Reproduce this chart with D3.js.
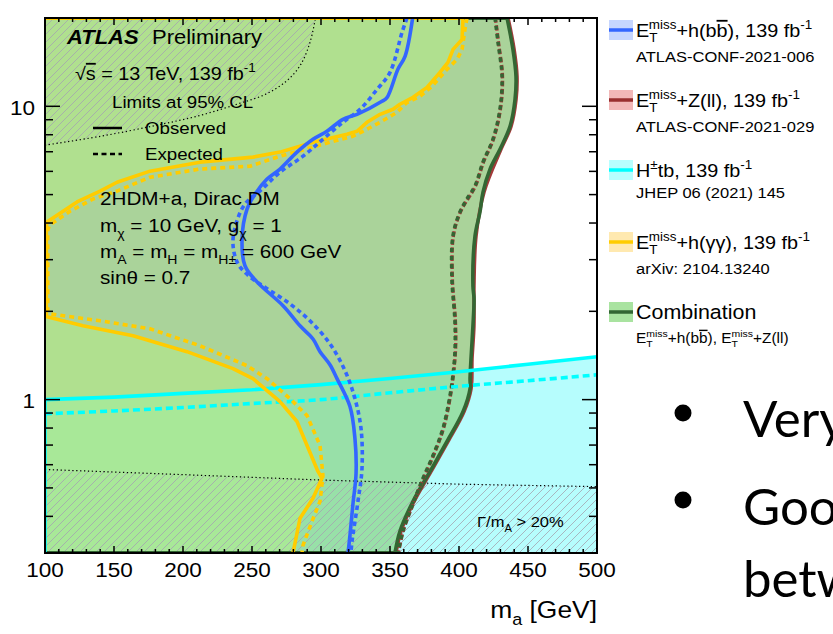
<!DOCTYPE html>
<html>
<head>
<meta charset="utf-8">
<script src="https://cdn.jsdelivr.net/npm/d3@7"></script>
<style>
  body { margin: 0; background: #fff; }
  text { font-family: "Liberation Sans", Arial, Helvetica, sans-serif; fill: #000; }
</style>
</head>
<body>
<script>
// ---- exclusion contours in the (m_a [GeV], tan beta) plane ----
const blueObs = [[366.4,20],[360.9,14.8],[355.8,13.4],[347.8,10.7],[344.2,10.4],[326.1,9.39],[315.9,9.03],[304.3,8.22],[294.2,7.72],[282.6,6.98],[270.3,6.11],[260.9,5.65],[252.2,5.02],[246.4,4.46],[242.8,3.53],[244.9,2.86],[253.6,2.52],[272.5,2.09],[284.8,1.785],[294.2,1.61],[299.3,1.457],[306.5,1.315],[311.6,1.179],[321.0,0.947],[324.6,0.737],[325.4,0.56],[323.2,0.443],[321.0,0.345],[319.6,0.3]];
const blueExp = [[362.3,20],[358.7,17.85],[350,13.05],[340.6,11.42],[328.3,9.77],[315.9,8.82],[301.4,7.72],[287,6.76],[270.3,5.96],[257.2,5.22],[244.9,4.64],[238.4,3.97],[236.2,3.39],[239.9,2.9],[248.6,2.62],[260.9,2.39],[277.5,2.12],[292,1.857],[306.5,1.55],[317.4,1.255],[324.6,1.008],[329,0.797],[329.7,0.582],[326.8,0.45],[322.5,0.329],[321.7,0.3]];
const yellowObs = [[402.9,20],[402.2,16.9],[395.7,15.63],[392,14.11],[386.2,13.05],[376.8,11.6],[366.7,10.73],[357.2,10.16],[352.2,9.77],[342.8,9.39],[333.3,8.82],[326.1,8.22],[318.8,8.03],[294.2,7.54],[270.3,6.98],[250.7,6.71],[212.3,6.45],[176.1,6.01],[152.2,5.51],[139.9,5.14],[123.2,4.72],[101.4,4.03],[101,3.9],[101,1.95],[101.4,1.915],[127.5,1.785],[163.8,1.65],[202.9,1.457],[236.2,1.275],[250.7,1.179],[270.3,0.984],[282.6,0.842],[289.9,0.698],[297.8,0.569],[300.7,0.539],[294.2,0.461],[284.8,0.394],[279.7,0.3]];
const yellowExp = [[405.8,20],[404.3,18.28],[402.2,15.63],[398.6,14.45],[391.3,13.36],[380.4,11.7],[371.7,10.81],[362.3,10.3],[355.1,9.54],[342.8,8.82],[330.4,8.22],[323.2,7.91],[306.5,7.54],[294.2,7.26],[270.3,6.76],[248.6,6.25],[212.3,6.11],[176.1,5.73],[152.2,5.14],[134.8,4.83],[118.1,4.39],[103.6,3.94],[102,3.8],[102,2.0],[103.6,1.96],[139.9,1.857],[176.1,1.744],[212.3,1.526],[246.4,1.305],[260.9,1.179],[277.5,1.008],[289.9,0.882],[299.3,0.698],[301.4,0.551],[299.3,0.45],[293.5,0.385],[287,0.319],[286.2,0.3]];
const greenObs = [[434.8,20],[439.1,15.63],[441.3,12.65],[440.6,10.56],[437,8.55],[429.7,7.14],[422.5,6.11],[417.4,5.1],[415.2,4.36],[411.6,3.61],[410.1,2.44],[410.9,2.21],[410.1,1.785],[408.7,1.379],[408,1.179],[408,1.09],[402.9,0.91],[391.3,0.72],[379,0.569],[366.7,0.45],[357.2,0.356],[353.6,0.3]];
const greenExp = [[426.1,20],[428.3,16.5],[431.2,12.65],[429.7,9.77],[424.6,7.72],[417.4,6.45],[411.6,5.35],[405.8,4.83],[400.7,4.36],[395.6,3.61],[394.9,2.58],[397.1,1.843],[397.1,1.457],[395.6,1.207],[393.5,1.032],[388.4,0.797],[381.2,0.645],[373.9,0.539],[366.7,0.443],[359.4,0.358],[355.8,0.3]];
const redObs = [[435.6,20],[440,15.63],[442.1,12.65],[441.4,10.56],[437.8,8.55],[430.5,7.14],[418.2,5.1],[412.4,3.61],[410.9,2.44],[410.9,1.785],[409.5,1.379],[408.8,1.09],[403.7,0.91],[392.1,0.72],[379.8,0.569],[367.5,0.45],[358,0.356],[354.4,0.3]];
const redExp = [[426.4,20],[428.6,16.5],[431.5,12.65],[430,9.77],[424.9,7.72],[417.7,6.45],[411.9,5.35],[401,4.36],[395.9,3.61],[395.2,2.58],[397.4,1.843],[397.4,1.457],[393.8,1.032],[388.7,0.797],[381.5,0.645],[374.2,0.539],[367,0.443],[359.7,0.358],[356.1,0.3]];
const cyanObs = [[100,1.0],[150,1.02],[200,1.05],[250,1.08],[300,1.125],[350,1.18],[400,1.245],[450,1.32],[500,1.4]];
const cyanExp = [[100,0.895],[150,0.915],[200,0.94],[250,0.97],[300,1.0],[350,1.055],[400,1.11],[450,1.16],[500,1.215]];
// Gamma_A / m_A = 20% boundaries
const widthUpper = [[100,7.37],[140,7.9],[180,8.6],[212,9.3],[240,10.2],[260,11.0],[275,12.2],[285,13.8],[292,16.5],[296,20]];
const widthLower = [[100,0.578],[200,0.555],[300,0.532],[400,0.515],[500,0.505]];

// ---- axes ----
const xDomain = [100, 500];
const yDomain = [0.3, 20];
const xTickLabels = [100, 150, 200, 250, 300, 350, 400, 450, 500];
const yTickLabels = [1, 10];
const yMinorTicks = [0.4,0.5,0.6,0.7,0.8,0.9,2,3,4,5,6,7,8,9];

const W = 833, H = 634;
const L = 45, R = 597, T = 18, B = 553;
const x = d3.scaleLinear().domain(xDomain).range([L, R]);
const y = d3.scaleLog().domain(yDomain).range([B, T]);

const svg = d3.select("body").append("svg").attr("width", W).attr("height", H);
const defs = svg.append("defs");
defs.append("clipPath").attr("id", "plotClip").append("rect")
  .attr("x", L).attr("y", T).attr("width", R - L).attr("height", B - T);

const smooth = d3.curveCatmullRom.alpha(0.5);
const lineOf = (curve) => d3.line().x(d => x(d[0])).y(d => y(d[1])).curve(curve);
function regionPath(contour, extra, curve) {
  return lineOf(curve)(contour) + extra.map(p => `L${x(p[0])},${y(p[1])}`).join("") + "Z";
}

const greenRegion = regionPath(greenObs, [[95,0.28],[95,22],[434.8,22]], smooth);
const yellowRegion = regionPath(yellowObs, [[279.7,0.28],[520,0.28],[520,22],[402.9,22]], d3.curveLinear);
const cyanRegion = regionPath(cyanObs, [[505,1.4],[505,0.28],[95,0.28],[95,1.0]], smooth);

defs.append("clipPath").attr("id", "greenClip").append("path").attr("d", greenRegion);
defs.append("clipPath").attr("id", "cyanClip").append("path").attr("d", cyanRegion);

const hatch = defs.append("pattern").attr("id", "hatch")
  .attr("patternUnits", "userSpaceOnUse").attr("width", 8).attr("height", 8);
hatch.append("path").attr("d", "M-2,2 L2,-2 M0,8 L8,0 M6,10 L10,6")
  .attr("stroke", "#a4a4b0").attr("stroke-width", 0.8);

const plot = svg.append("g").attr("clip-path", "url(#plotClip)");

// excluded regions
plot.append("path").attr("d", cyanRegion).attr("fill", "#b6fdfd");
plot.append("path").attr("d", greenRegion).attr("fill", "#b0e08f");
const inGreen = plot.append("g").attr("clip-path", "url(#greenClip)");
inGreen.append("path").attr("d", cyanRegion).attr("fill", "#a8e898");
inGreen.append("path").attr("d", yellowRegion).attr("fill", "#aad39a");
inGreen.append("g").attr("clip-path", "url(#cyanClip)")
  .append("path").attr("d", yellowRegion).attr("fill", "#98e0a8");

// large-width regions
plot.append("path").attr("d", regionPath(widthUpper, [[296,22],[95,22],[95,7.37]], smooth))
  .attr("fill", "url(#hatch)");
plot.append("path").attr("d", regionPath(widthLower, [[505,0.505],[505,0.28],[95,0.28],[95,0.578]], d3.curveLinear))
  .attr("fill", "url(#hatch)");
plot.append("path").attr("d", lineOf(smooth)(widthUpper)).attr("fill", "none")
  .attr("stroke", "#000").attr("stroke-width", 1.2).attr("stroke-dasharray", "1.3,2.6");
plot.append("path").attr("d", lineOf(d3.curveLinear)(widthLower)).attr("fill", "none")
  .attr("stroke", "#000").attr("stroke-width", 1.2).attr("stroke-dasharray", "1.3,2.6");

function contour(data, curve, color, width, dash, offset) {
  const p = plot.append("path").attr("d", lineOf(curve)(data)).attr("fill", "none")
    .attr("stroke", color).attr("stroke-width", width).attr("stroke-linejoin", "round");
  if (dash) p.attr("stroke-dasharray", dash).attr("stroke-dashoffset", offset || 0);
  return p;
}

// frame-edge pieces of the contours
contour([[100,20],[434.8,20]], d3.curveLinear, "#336633", 4);
contour([[100,0.3],[353.6,0.3]], d3.curveLinear, "#336633", 4);
contour([[100,20],[402.9,20]], d3.curveLinear, "#ffcc00", 4);

// E_T^miss + Z(ll) and combination
contour(redObs, smooth, "#a33a3a", 3.4);
contour(greenObs, smooth, "#336633", 3.6);
contour(redExp, smooth, "#a33a3a", 3.4, "5.5,2.5", 0.7);
contour(greenExp, smooth, "#336633", 3.6, "4,4", 0);
// H+tb
contour([[100,0.3]].concat(cyanObs), d3.curveLinear, "#00ffff", 3.6);
contour(cyanExp, smooth, "#00ffff", 3.6, "7,4");
// E_T^miss + h(gamma gamma)
contour(yellowObs, d3.curveLinear, "#ffcc00", 3.6);
contour(yellowExp, d3.curveLinear, "#ffcc00", 3.6, "5,4");
// E_T^miss + h(bb)
contour(blueObs, smooth, "#3366ff", 3.6);
contour(blueExp, smooth, "#3366ff", 3.6, "4.5,3.5");

// ---- frame and ticks ----
const axes = svg.append("g").attr("stroke", "#000");
d3.range(100, 501, 10).forEach(v => {
  const len = v % 50 === 0 ? 7 : 4;
  axes.append("line").attr("x1", x(v)).attr("x2", x(v)).attr("y1", B).attr("y2", B - len).attr("stroke-width", 1.5);
  axes.append("line").attr("x1", x(v)).attr("x2", x(v)).attr("y1", T).attr("y2", T + len).attr("stroke-width", 1.5);
});
yMinorTicks.concat(yTickLabels).forEach(v => {
  const len = yTickLabels.includes(v) ? 15 : 8;
  axes.append("line").attr("x1", L).attr("x2", L + len).attr("y1", y(v)).attr("y2", y(v)).attr("stroke-width", 1.5);
  axes.append("line").attr("x1", R).attr("x2", R - len).attr("y1", y(v)).attr("y2", y(v)).attr("stroke-width", 1.5);
});
svg.append("rect").attr("x", L).attr("y", T).attr("width", R - L).attr("height", B - T)
  .attr("fill", "none").attr("stroke", "#000").attr("stroke-width", 2);

// ---- text helper: parts are strings or [text, kind] ----
function rich(parent, px, py, size, parts, anchor, sx) {
  const g = parent.append("g").attr("transform", `translate(${px},${py}) scale(${sx || 1.1},1)`);
  const t = g.append("text").attr("font-size", size).attr("text-anchor", anchor || "start");
  let cur = 0;
  parts.forEach(p => {
    const [s, k, extra] = typeof p === "string" ? [p, "n"] : p;
    let target = 0, fs = size;
    if (k === "sub") { target = 0.3 * size; fs = 0.68 * size; }
    if (k === "sup") { target = -0.42 * size; fs = 0.68 * size; }
    const ts = t.append("tspan").text(s).attr("font-size", fs).attr("dy", target - cur);
    if (extra) ts.attr("dx", extra);
    cur = target;
    if (k === "bi") ts.attr("font-weight", "bold").attr("font-style", "italic");
    if (k === "ol") ts.style("text-decoration", "overline");
  });
  return t;
}
const ETmiss = (size) => [["E", "n"], ["T", "sub"], ["miss", "sup", -0.611 * 0.68 * size]];

// tick labels
xTickLabels.forEach(v => rich(svg, x(v), 577, 20.5, [String(v)], "middle"));
yTickLabels.forEach(v => rich(svg, 35, y(v) + 8.5, 20.5, [String(v)], "end"));
rich(svg, 597, 618, 24, ["m", ["a", "sub"], [" [GeV]", "n"]], "end");

// in-plot annotations
rich(svg, 67, 44, 20, [["ATLAS", "bi"]]);
rich(svg, 152, 44, 20, ["Preliminary"]);
rich(svg, 75, 80, 18, ["√", ["s", "ol"], [" = 13 TeV, 139 fb", "n"], ["-1", "sup"]]);
rich(svg, 112, 108, 17, ["Limits at 95% CL"]);
svg.append("line").attr("x1", 93).attr("x2", 122).attr("y1", 128).attr("y2", 128).attr("stroke", "#000").attr("stroke-width", 2.5);
rich(svg, 145, 134, 17, ["Observed"]);
svg.append("line").attr("x1", 93).attr("x2", 122).attr("y1", 154).attr("y2", 154).attr("stroke", "#000").attr("stroke-width", 2.5).attr("stroke-dasharray", "5,3.5");
rich(svg, 145, 160, 17, ["Expected"]);
rich(svg, 100, 205, 18.8, ["2HDM+a, Dirac DM"]);
rich(svg, 100, 232, 18.8, ["m", ["χ", "sub"], [" = 10 GeV, g", "n"], ["χ", "sub"], [" = 1", "n"]]);
rich(svg, 100, 258, 18.8, ["m", ["A", "sub"], [" = m", "n"], ["H", "sub"], [" = m", "n"], ["H±", "sub"], [" = 600 GeV", "n"]]);
rich(svg, 100, 284, 18.8, ["sinθ = 0.7"]);
rich(svg, 477, 527, 15, ["Γ/m", ["A", "sub"], [" > 20%", "n"]]);

// ---- legend ----
const legendEntries = [
  { cy: 30, fill: "#c6d6ff", line: "#3366ff", main: ETmiss(19).concat([["+h(b", "n"], ["b", "ol"], ["), 139 fb", "n"], ["-1", "sup"]]), ref: "ATLAS-CONF-2021-006" },
  { cy: 100, fill: "#f2b8b8", line: "#992f2f", main: ETmiss(19).concat([["+Z(ll), 139 fb", "n"], ["-1", "sup"]]), ref: "ATLAS-CONF-2021-029" },
  { cy: 170, fill: "#b8ffff", line: "#00ffff", main: ["H", ["±", "sup"], ["tb, 139 fb", "n"], ["-1", "sup"]], ref: "JHEP 06 (2021) 145" },
  { cy: 242, fill: "#ffe9b0", line: "#ffcc00", main: ETmiss(19).concat([["+h(γγ), 139 fb", "n"], ["-1", "sup"]]), ref: "arXiv: 2104.13240" },
  { cy: 312, fill: "#a9e3a0", line: "#336633", main: ["Combination"], ref: null }
];
legendEntries.forEach(e => {
  svg.append("rect").attr("x", 609).attr("y", e.cy - 10).attr("width", 24).attr("height", 20).attr("fill", e.fill);
  svg.append("line").attr("x1", 609).attr("x2", 633).attr("y1", e.cy).attr("y2", e.cy).attr("stroke", e.line).attr("stroke-width", 3.5);
  rich(svg, 636, e.cy + 7, e.ref ? 18 : 19.5, e.main);
  if (e.ref) rich(svg, 636, e.cy + (e.cy === 170 ? 28 : 32), 15, [e.ref]);
});
rich(svg, 636, 343, 14, ETmiss(14).concat([["+h(b", "n"], ["b", "ol"], ["), ", "n"]]).concat(ETmiss(14)).concat([["+Z(ll)", "n"]]));

// ---- slide bullets ----
const bullets = [{ cy: 413, text: "Very", base: 437 }, { cy: 500, text: "Goo", base: 525 }];
bullets.forEach(b => {
  svg.append("circle").attr("cx", 683).attr("cy", b.cy).attr("r", 8.5).attr("fill", "#000");
  svg.append("text").attr("x", 743).attr("y", b.base).attr("font-size", 51)
    .style("font-family", "Lato, 'Open Sans', sans-serif").text(b.text);
});
svg.append("text").attr("x", 743).attr("y", 597).attr("font-size", 51)
  .style("font-family", "Lato, 'Open Sans', sans-serif").text("betw");
</script>
</body>
</html>
